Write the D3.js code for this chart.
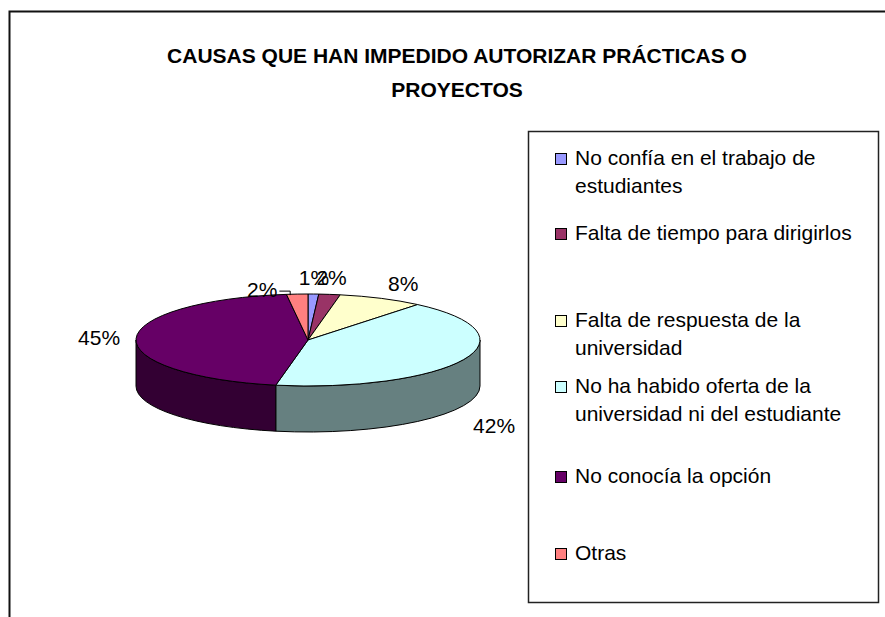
<!DOCTYPE html>
<html>
<head>
<meta charset="utf-8">
<script src="https://cdn.jsdelivr.net/npm/d3@7"></script>
<style>
    body { margin: 0; background: #fff; }
    svg { display: block; font-family: Arial, "Liberation Sans", sans-serif; }
</style>
</head>
<body>
<script>
(function(){

    //chart data
    var categories = [
        "No confía en el trabajo de estudiantes",
        "Falta de tiempo para dirigirlos",
        "Falta de respuesta de la universidad",
        "No ha habido oferta de la universidad ni del estudiante",
        "No conocía la opción",
        "Otras"
    ];
    var values = [1, 2, 8, 42, 45, 2]; //percent
    var legendLines = [
        ["No confía en el trabajo de", "estudiantes"],
        ["Falta de tiempo para dirigirlos"],
        ["Falta de respuesta de la", "universidad"],
        ["No ha habido oferta de la", "universidad ni del estudiante"],
        ["No conocía la opción"],
        ["Otras"]
    ];
    var colors = ["#9999FF", "#993366", "#FFFFCC", "#CCFFFF", "#660066", "#FF8080"];
    var titleLines = ["CAUSAS QUE HAN IMPEDIDO AUTORIZAR PRÁCTICAS O", "PROYECTOS"];

    //begin script when window loads
    window.onload = setChart();

    function setChart(){

        var width = 885,
            height = 617;

        var svg = d3.select("body")
            .append("svg")
            .attr("width", width)
            .attr("height", height);

        //outer chart frame (runs off the page at right and bottom)
        svg.append("rect")
            .attr("x", 9.5)
            .attr("y", 11.5)
            .attr("width", 900)
            .attr("height", 700)
            .attr("fill", "#fff")
            .attr("stroke", "#111")
            .attr("stroke-width", 2);

        //title
        svg.selectAll(".title")
            .data(titleLines)
            .enter()
            .append("text")
            .attr("class", "title")
            .attr("x", 457)
            .attr("y", function(d, i){ return 63 + i * 34; })
            .attr("text-anchor", "middle")
            .style("font-size", "21px")
            .style("font-weight", "bold")
            .text(function(d){ return d; });

        drawPie(svg);
        drawLegend(svg);
    };

    function drawPie(svg){
        var cx = 308, cy = 340, rx = 172, ry = 46, depth = 46;

        var pie = d3.pie().sort(null).value(function(d){ return d; });
        var arcs = pie(values);

        //point on the top ellipse for an angle (0 = 12 o'clock, clockwise)
        function pt(a, dy){
            return [cx + rx * Math.sin(a), cy - ry * Math.cos(a) + (dy || 0)];
        }

        function shade(c){
            var r = d3.rgb(c);
            return d3.rgb(r.r * 0.5, r.g * 0.5, r.b * 0.5).toString();
        }

        //front side walls
        var walls = svg.append("g").attr("class", "walls");
        arcs.forEach(function(d, i){
            var b0 = Math.max(d.startAngle, Math.PI / 2),
                b1 = Math.min(d.endAngle, Math.PI * 1.5);
            if (b1 <= b0) return;
            var p0 = pt(b0), p1 = pt(b1), q0 = pt(b0, depth), q1 = pt(b1, depth);
            var large = (b1 - b0) > Math.PI ? 1 : 0;
            var p = "M" + p0 + "A" + rx + " " + ry + " 0 " + large + " 1 " + p1 +
                "L" + q1 + "A" + rx + " " + ry + " 0 " + large + " 0 " + q0 + "Z";
            walls.append("path")
                .attr("d", p)
                .attr("fill", shade(colors[i]))
                .attr("stroke", "#000")
                .attr("stroke-width", 1);
        });

        //top slices
        svg.append("g")
            .attr("class", "slices")
            .selectAll("path")
            .data(arcs)
            .enter()
            .append("path")
            .attr("d", function(d){
                var p0 = pt(d.startAngle), p1 = pt(d.endAngle);
                var large = (d.endAngle - d.startAngle) > Math.PI ? 1 : 0;
                return "M" + cx + "," + cy + "L" + p0 + "A" + rx + " " + ry + " 0 " + large + " 1 " + p1 + "Z";
            })
            .attr("fill", function(d, i){ return colors[i]; })
            .attr("stroke", "#000")
            .attr("stroke-width", 1)
            .attr("stroke-linejoin", "round");

        //data labels placed on an outer ellipse at each slice's mid-angle
        var lrx = rx + 16, lry = ry + 16;
        var nudge = { 5: [-34, 12] }; //"Otras" label pushed aside to avoid overlap

        var labels = svg.append("g").attr("class", "labels");
        arcs.forEach(function(d, i){
            var a = (d.startAngle + d.endAngle) / 2,
                s = Math.sin(a), c = Math.cos(a);
            var x = cx + lrx * s,
                y = cy - lry * c + (c < 0 ? depth + 14 : 0);
            var anchor = s > 0.3 ? "start" : (s < -0.3 ? "end" : "middle");
            if (c < 0) x -= 5;
            if (nudge[i]) { x += nudge[i][0]; y += nudge[i][1]; }
            var t = labels.append("text")
                .attr("x", x)
                .attr("y", y + 7)
                .attr("text-anchor", anchor)
                .style("font-size", "21px")
                .text(values[i] + "%");

            if (nudge[i]) {
                //leader line back to the slice rim
                var box = t.node().getBBox(),
                    rim = pt(a),
                    lx = box.x + box.width + 2,
                    ly = y + 1;
                labels.append("path")
                    .attr("d", "M" + lx + "," + ly + "L" + (rim[0] - 7) + "," + ly + "L" + (rim[0] - 7) + "," + (ly + 4))
                    .attr("fill", "none")
                    .attr("stroke", "#000")
                    .attr("stroke-width", 1);
            }
        });
    };

    function drawLegend(svg){
        //legend frame
        svg.append("rect")
            .attr("x", 528.5)
            .attr("y", 131.5)
            .attr("width", 350)
            .attr("height", 471)
            .attr("fill", "#fff")
            .attr("stroke", "#222")
            .attr("stroke-width", 1.5);

        //baseline of the first line of each entry
        var baselines = [165, 240, 327, 393, 483, 560];

        var items = svg.selectAll(".legendItem")
            .data(categories)
            .enter()
            .append("g")
            .attr("class", "legendItem")
            .attr("transform", function(d, i){ return "translate(0," + baselines[i] + ")"; });

        items.append("rect")
            .attr("x", 555.5)
            .attr("y", -11.5)
            .attr("width", 11)
            .attr("height", 11)
            .attr("fill", function(d, i){ return colors[i]; })
            .attr("stroke", "#000")
            .attr("stroke-width", 1);

        items.each(function(d, i){
            var g = d3.select(this);
            legendLines[i].forEach(function(line, j){
                g.append("text")
                    .attr("x", 575)
                    .attr("y", j * 28)
                    .style("font-size", "21px")
                    .text(line);
            });
        });
    };

})();
</script>
</body>
</html>
